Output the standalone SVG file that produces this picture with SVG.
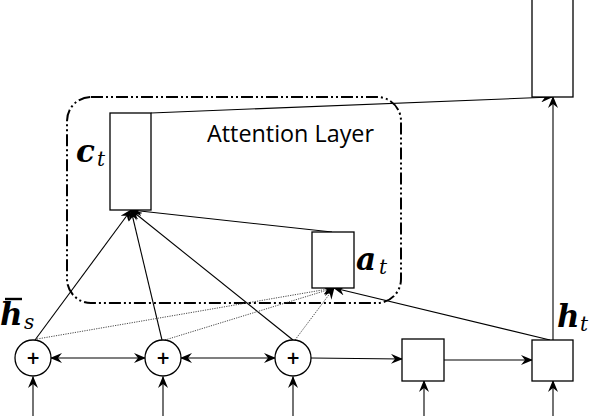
<svg xmlns="http://www.w3.org/2000/svg" width="592" height="416" viewBox="0 0 592 416">
<style>
.box{fill:#fff;stroke:#000;stroke-width:1.3}
.ln{fill:none;stroke:#000;stroke-width:1.1}
.dot{fill:none;stroke:#333;stroke-width:0.9;stroke-dasharray:1.2 1.2}
.frame{fill:none;stroke:#000;stroke-width:2;stroke-dasharray:12 3 2 3 2 3}
.plus{font-family:"DejaVu Sans","Liberation Sans",sans-serif;font-size:17px;font-weight:bold;text-anchor:middle}
.math{font-family:"DejaVu Serif","Liberation Serif",serif;font-weight:bold;font-style:italic;font-size:31px}
.sub{font-family:"DejaVu Serif","Liberation Serif",serif;font-style:italic;font-size:20px}
.lbl{font-family:"Open Sans","Liberation Sans",sans-serif;font-size:24px}
</style>
<defs>
<marker id="ah" viewBox="0 0 12 10" refX="11" refY="5" markerWidth="12" markerHeight="10" markerUnits="userSpaceOnUse" orient="auto-start-reverse">
<path d="M0,0 L12,5 L0,10 L4,5 Z" fill="#000"/>
</marker>
</defs>
<rect class="frame" x="67" y="97" width="334" height="206" rx="24" ry="24"/>
<g id="connectors">
<line class="ln" x1="151" y1="113" x2="552" y2="97" marker-end="url(#ah)"/>
<line class="ln" x1="553" y1="340" x2="553" y2="97" marker-end="url(#ah)"/>
<line class="ln" x1="332" y1="232" x2="131" y2="210" marker-end="url(#ah)"/>
<line class="ln" x1="550" y1="340" x2="334" y2="288" marker-end="url(#ah)"/>
<line class="ln" x1="35" y1="340" x2="131" y2="210" marker-end="url(#ah)"/>
<line class="ln" x1="162" y1="340" x2="131" y2="210" marker-end="url(#ah)"/>
<line class="ln" x1="293" y1="340" x2="131" y2="210" marker-end="url(#ah)"/>
<line class="dot" x1="37" y1="339" x2="334" y2="288" marker-end="url(#ah)"/>
<line class="dot" x1="165" y1="340" x2="334" y2="288" marker-end="url(#ah)"/>
<line class="dot" x1="295" y1="340" x2="334" y2="288" marker-end="url(#ah)"/>
<line class="ln" x1="51" y1="358" x2="145" y2="358" marker-start="url(#ah)" marker-end="url(#ah)"/>
<line class="ln" x1="181" y1="358" x2="275" y2="358" marker-start="url(#ah)" marker-end="url(#ah)"/>
<line class="ln" x1="311" y1="358" x2="402" y2="359" marker-end="url(#ah)"/>
<line class="ln" x1="444" y1="360" x2="532" y2="360" marker-end="url(#ah)"/>
<line class="ln" x1="33" y1="416" x2="33" y2="377" marker-end="url(#ah)"/>
<line class="ln" x1="163" y1="416" x2="163" y2="377" marker-end="url(#ah)"/>
<line class="ln" x1="293" y1="416" x2="293" y2="377" marker-end="url(#ah)"/>
<line class="ln" x1="424" y1="416" x2="424" y2="381" marker-end="url(#ah)"/>
<line class="ln" x1="553" y1="416" x2="553" y2="381" marker-end="url(#ah)"/>
</g>
<g id="output"><rect class="box" x="532" y="-1" width="41" height="98"/></g>
<g id="ct"><rect class="box" x="110" y="113" width="41" height="97"/>
<text class="math" x="76" y="162">c</text><text class="sub" x="97" y="166">t</text></g>
<g id="at"><rect class="box" x="312" y="232" width="42" height="56"/>
<text class="math" x="356" y="270">a</text><text class="sub" x="379" y="274">t</text></g>
<g id="attention-label"><text class="lbl" x="207" y="142" textLength="167" lengthAdjust="spacingAndGlyphs">Attention Layer</text></g>
<g id="hs1"><circle class="box" cx="33" cy="358" r="18"/><text class="plus" x="33" y="364">+</text>
<text class="math" x="0" y="325">h</text><line x1="5" y1="299" x2="22" y2="299" stroke="#000" stroke-width="2.4"/><text class="sub" x="24" y="329">s</text></g>
<g id="hs2"><circle class="box" cx="163" cy="358" r="18"/><text class="plus" x="163" y="364">+</text></g>
<g id="hs3"><circle class="box" cx="293" cy="358" r="18"/><text class="plus" x="293" y="364">+</text></g>
<g id="d1"><rect class="box" x="402" y="339" width="42" height="42"/></g>
<g id="ht"><rect class="box" x="532" y="340" width="41" height="41"/>
<text class="math" x="557" y="327">h</text><text class="sub" x="580" y="331">t</text></g>
</svg>
